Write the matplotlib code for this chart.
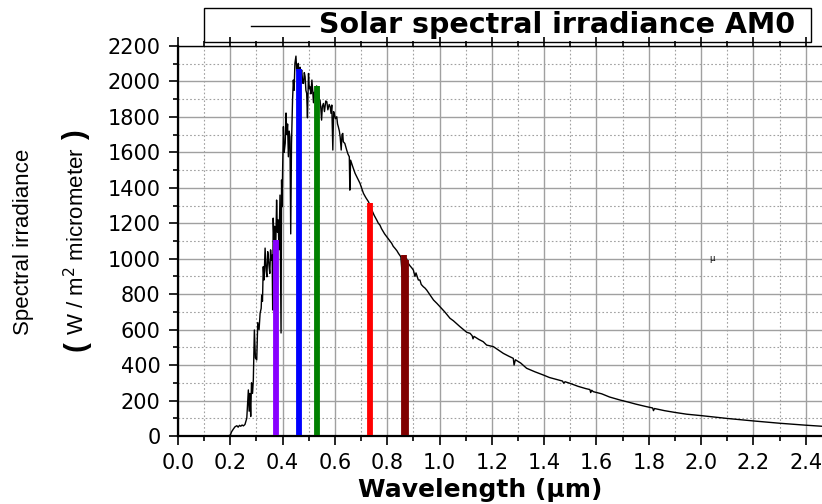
import numpy as np
import matplotlib.pyplot as plt
from matplotlib.patches import Rectangle
from matplotlib.lines import Line2D

# AM0 spectrum (wavelength in um, W/m2/um)
wavelength = [
    0.12, 0.19, 0.200, 0.205, 0.212, 0.218, 0.225, 0.230, 0.235, 0.240, 0.245, 0.250, 0.256,
    0.263, 0.266, 0.269, 0.272, 0.275, 0.278, 0.281, 0.285, 0.288, 0.292, 0.296, 0.301,
    0.305, 0.310, 0.314, 0.318, 0.320, 0.323, 0.326, 0.329, 0.333, 0.337, 0.340, 0.343,
    0.345, 0.348, 0.351, 0.354, 0.357, 0.360, 0.362, 0.364, 0.367, 0.370, 0.373, 0.377,
    0.380, 0.383, 0.386, 0.390, 0.392, 0.394, 0.396, 0.398, 0.400, 0.403, 0.406, 0.410,
    0.413, 0.416, 0.419, 0.422, 0.425, 0.428, 0.431, 0.434, 0.438, 0.441, 0.444, 0.447,
    0.451, 0.454, 0.457, 0.460, 0.464, 0.467, 0.470, 0.473, 0.477, 0.480, 0.483, 0.486,
    0.489, 0.492, 0.495, 0.499, 0.502, 0.505, 0.508, 0.512, 0.515, 0.518, 0.521, 0.525,
    0.530, 0.534, 0.537, 0.540, 0.543, 0.546, 0.549, 0.552, 0.556, 0.560, 0.565, 0.569,
    0.573, 0.578, 0.582, 0.585, 0.588, 0.592, 0.595, 0.597, 0.602, 0.607, 0.610, 0.613,
    0.617, 0.620, 0.624, 0.627, 0.630, 0.632, 0.638, 0.645, 0.650, 0.655, 0.657, 0.660,
    0.668, 0.677, 0.686, 0.696, 0.703, 0.709, 0.718, 0.728, 0.735, 0.741, 0.750, 0.760,
    0.766, 0.772, 0.778, 0.785, 0.790, 0.798, 0.808, 0.817, 0.823, 0.830, 0.837, 0.843,
    0.852, 0.859, 0.862, 0.874, 0.880, 0.887, 0.893, 0.900, 0.906, 0.910, 0.919, 0.925,
    0.930, 0.938, 0.944, 0.951, 0.964, 0.977, 0.990, 1.002, 1.020, 1.040, 1.053, 1.078,
    1.104, 1.117, 1.125, 1.128, 1.132, 1.150, 1.167, 1.180, 1.206, 1.225, 1.244, 1.265,
    1.282, 1.285, 1.290, 1.310, 1.333, 1.365, 1.397, 1.420, 1.450, 1.470, 1.475, 1.480,
    1.499, 1.530, 1.560, 1.575, 1.578, 1.582, 1.588, 1.620, 1.650, 1.690, 1.720, 1.750,
    1.790, 1.815, 1.818, 1.822, 1.860, 1.900, 1.945, 2.000, 2.100, 2.200, 2.300, 2.400,
    2.493,
]
irradiance = [
    0, 0, 5, 24, 40, 52, 58, 50, 60, 55, 62, 57, 65,
    100, 180, 260, 140, 240, 110, 300, 240, 316, 598, 440, 429,
    640, 600, 693, 720, 795, 760, 955, 880, 1060, 930, 898, 1040,
    1011, 960, 917, 1050, 992, 1020, 711, 1229, 1100, 1183, 1000, 1331,
    1150, 1219, 1050, 1359, 1000, 581, 1444, 1293, 1500, 1745, 1600, 1652,
    1822, 1700, 1760, 1575, 1720, 1688, 1140, 1650, 1895, 2008, 1950, 2102,
    2143, 2060, 2083, 2102, 2000, 2080, 2040, 2064, 1990, 1989, 2050, 2027,
    1950, 1933, 1795, 2045, 1960, 1970, 1930, 2008, 1950, 1880, 1940, 1910,
    1975, 1930, 1970, 1900, 1895, 1850, 1782, 1860, 1876, 1830, 1890, 1886,
    1840, 1870, 1857, 1820, 1867, 1613, 1830, 1820, 1790, 1801, 1760, 1745,
    1720, 1688, 1613, 1700, 1707, 1660, 1650, 1613, 1590, 1575, 1387, 1556,
    1520, 1482, 1455, 1425, 1395, 1369, 1345, 1322, 1300, 1275, 1245, 1218,
    1200, 1190, 1170, 1152, 1140, 1124, 1105, 1087, 1070, 1058, 1045, 1030,
    1011, 880, 1005, 1000, 975, 960, 950, 936, 900, 920, 880, 880,
    855, 842, 835, 823, 795, 767, 748, 729, 700, 664, 650, 617,
    585, 579, 565, 548, 562, 545, 532, 513, 504, 485, 466, 450,
    438, 400, 430, 412, 382, 362, 344, 330, 318, 310, 298, 306,
    297, 280, 267, 262, 245, 258, 250, 238, 220, 203, 192, 180,
    166, 158, 143, 155, 143, 133, 123, 115, 99, 85, 72, 61,
    52,
]

# coloured wavelength markers
bar_x = [0.375, 0.463, 0.530, 0.734, 0.864, 0.872]
bar_top = [1105, 2070, 1974, 1316, 1021, 995]
bar_colors = ['#8800ff', '#0000ff', '#008000', '#ff0000', '#800000', '#800000']

fig = plt.figure(figsize=(8.22, 5.04), dpi=100)
ax = fig.add_axes([178/822, 68/504, 652/822, 390/504])

ax.plot(wavelength, irradiance, color='black', lw=1.0, zorder=3)
ax.vlines(bar_x, 8, bar_top, colors=bar_colors, lw=4.2, zorder=4)

ax.set_xlim(0, 2.493)
ax.set_ylim(0, 2200)
ax.set_xticks(np.arange(0, 2.41, 0.2))
ax.set_xticks(np.arange(0.1, 2.5, 0.2), minor=True)
ax.set_yticks(np.arange(0, 2201, 200))
ax.set_yticks(np.arange(100, 2200, 200), minor=True)
ax.set_xticklabels(['%.1f' % v for v in np.arange(0, 2.41, 0.2)])

ax.grid(which='major', color='#a0a0a0', lw=1.0, ls='-', zorder=0)
ax.grid(which='minor', color='#a0a0a0', lw=0.8, ls=(0, (1.5, 2)), zorder=0)
ax.set_axisbelow(True)

ax.tick_params(which='both', direction='out', labelsize=15, width=1.2, pad=6,
               top=True, labeltop=False)
ax.tick_params(which='major', length=6.5)
ax.tick_params(which='minor', length=3.5)
for s in ['left', 'bottom']:
    ax.spines[s].set_linewidth(1.6)
ax.spines['top'].set_linewidth(1.0)
ax.spines['right'].set_visible(False)

ax.set_xlabel('Wavelength (µm)', fontsize=18, fontweight='bold')
ax.xaxis.set_label_coords((480 - 178) / 652, (436 - 478) / 390)

# y label in two lines with large parentheses
fig.text(24/822, 1 - 242/504, 'Spectral irradiance', rotation=90, ha='center',
         va='center', fontsize=16, family='Liberation Sans')
fig.text(77/822, 1 - 241/504, 'W / m$^{2}$ micrometer', rotation=90, ha='center',
         va='center', fontsize=16, family='Liberation Sans')
fig.text(76/822, 1 - 346/504, '(', rotation=90, ha='center', va='center',
         fontsize=21, fontweight='bold', family='Liberation Sans')
fig.text(76/822, 1 - 135/504, ')', rotation=90, ha='center', va='center',
         fontsize=21, fontweight='bold', family='Liberation Sans')

ax.text(2.04, 1004, 'µ', fontsize=6, ha='center', va='center')

# legend box on top
fig.add_artist(Rectangle((204/822, 1 - 42/504), 607/822, 34/504, transform=fig.transFigure,
                         fill=False, edgecolor='black', lw=1.0))
fig.add_artist(Line2D([251/822, 309/822], [1 - 26/504, 1 - 26/504], transform=fig.transFigure,
                      color='black', lw=1.0))
fig.text(319/822, 1 - 25/504, 'Solar spectral irradiance AM0', ha='left', va='center',
         fontsize=20.5, fontweight='bold')

fig.savefig('out.png', dpi=100)
